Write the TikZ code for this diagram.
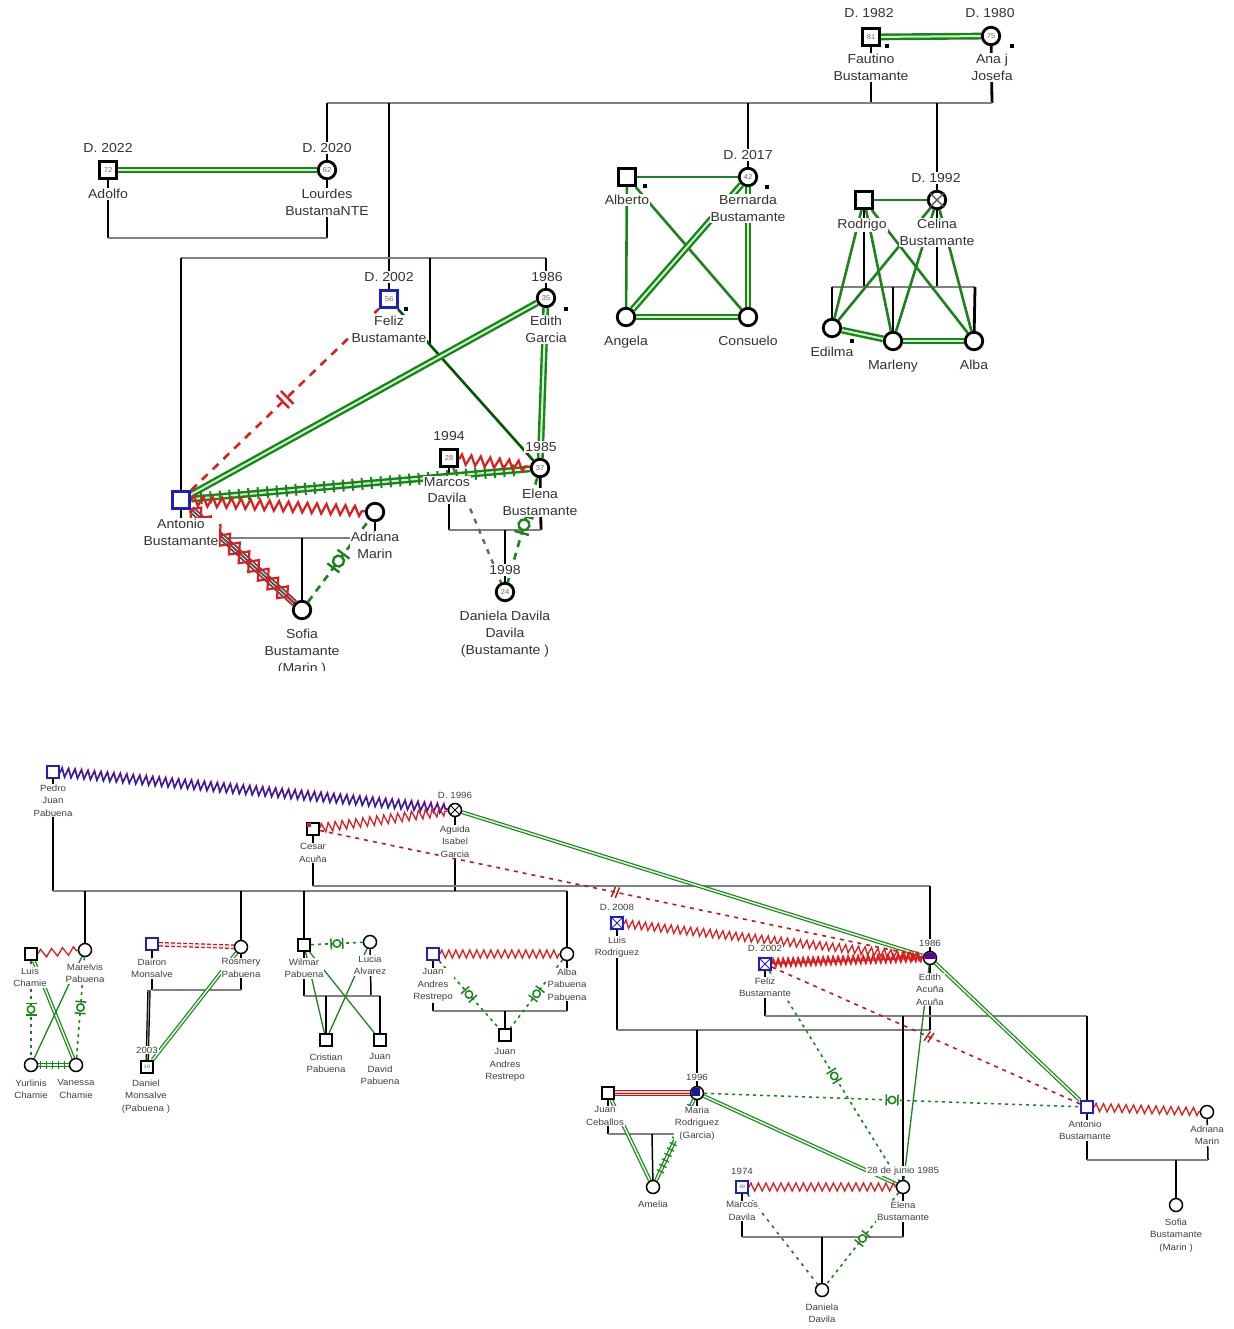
\documentclass[tikz,border=0pt]{standalone}
\usepackage{fontspec}
\setmainfont{Liberation Sans}[FakeStretch=1.08]
\usetikzlibrary{decorations.pathmorphing,decorations.markings}
\pgfdeclarelayer{bg}
\pgfsetlayers{bg,main}
\newcommand\ftop{\fontsize{13}{16.8}\selectfont}
\newcommand\fbot{\fontsize{9}{12.6}\selectfont}
\newcommand\fnum{\fontsize{7}{7}\selectfont}
\newcommand\fnumb{\fontsize{5}{5}\selectfont}
\definecolor{gdk}{RGB}{28,130,28}
\definecolor{rdk}{RGB}{222,30,30}
\definecolor{blu}{RGB}{30,30,195}
\definecolor{sib}{RGB}{128,128,128}
\tikzset{
 tsq/.style={rectangle,draw=black,line width=3.2pt,fill=white,minimum size=17pt,inner sep=0pt,font=\fnum,text=black!60},
 tci/.style={tsq,circle,line width=2.8pt,minimum size=17.5pt},
 bsq/.style={rectangle,draw=black,line width=1.6pt,fill=white,minimum size=12.5pt,inner sep=0pt,font=\fnumb,text=black!60},
 bci/.style={bsq,circle,line width=1.5pt,minimum size=13pt},
 isblue/.style={draw=blu},
 tl/.style={font=\ftop,align=center,inner sep=1pt,fill=white,text=black!80,anchor=north},
 tdate/.style={font=\ftop,inner sep=1pt,fill=white,text=black!80},
 blab/.style={font=\fbot,align=center,inner sep=0.8pt,fill=white,text=black!75,anchor=north},
 bdate/.style={font=\fbot,inner sep=0.8pt,fill=white,text=black!75},
 mk/.style={fill=black,minimum size=4.5pt,inner sep=0pt},
 tvert/.style={draw=black,line width=2.8pt},
 thor/.style={draw=sib,line width=2.8pt},
 bvert/.style={draw=black,line width=1.5pt},
 bhor/.style={draw=sib,line width=1.5pt},
 tg2/.style={draw=gdk,line width=2.4pt,double=green!22!white,double distance=2pt},
 tg1/.style={draw=gdk,line width=2.6pt},
 bg2/.style={draw=gdk,line width=1.2pt,double=green!12!white,double distance=1.5pt},
 bg1/.style={draw=gdk,line width=1.3pt},
 tzz/.style={draw=rdk,line width=2.2pt,decorate,decoration={zigzag,segment length=9.5pt,amplitude=5pt}},
 bzz/.style={draw=rdk,line width=1.3pt,decorate,decoration={zigzag,segment length=7pt,amplitude=3.5pt}},
 tticks/.style={decorate,decoration={markings,mark=between positions 0.03 and 0.97 step 9.5pt with {\draw[gdk,line width=2pt] (0pt,-6pt)--(0pt,6pt);}}},
 bticks/.style={decorate,decoration={markings,mark=between positions 0.08 and 0.92 step 6pt with {\draw[gdk,line width=1.3pt] (0pt,-4pt)--(0pt,4pt);}}},
 tsym/.style={postaction={decorate,decoration={markings,mark=at position #1 with {\draw[solid,gdk,line width=2.4pt,fill=white] (0pt,0pt) circle (5.5pt); \draw[solid,gdk,line width=2.4pt] (-8.5pt,-7.5pt)--(-8.5pt,7.5pt) (8.5pt,-7.5pt)--(8.5pt,7.5pt);}}}},
 bsym/.style={postaction={decorate,decoration={markings,mark=at position #1 with {\draw[solid,gdk,line width=1.5pt,fill=white] (0pt,0pt) circle (3.7pt); \draw[solid,gdk,line width=1.5pt] (-5.8pt,-5.5pt)--(-5.8pt,5.5pt) (5.8pt,-5.5pt)--(5.8pt,5.5pt);}}}},
 tbrk/.style={postaction={decorate,decoration={markings,mark=at position #1 with {\draw[solid,rdk,line width=2.4pt] (-3pt,-9pt)--(-3pt,9pt) (3pt,-9pt)--(3pt,9pt);}}}},
 bbrk/.style={postaction={decorate,decoration={markings,mark=at position #1 with {\draw[solid,rdk!85!black,line width=1.5pt] (-3pt,-5.5pt)--(-1pt,5.5pt) (1pt,-5.5pt)--(3pt,5.5pt);}}}},
 tgdash/.style={draw=gdk,line width=2.6pt,dash pattern=on 7pt off 6pt},
 bgdash/.style={draw=gdk,line width=1.6pt,dash pattern=on 3pt off 4pt},
 trdash/.style={draw=rdk,line width=2.6pt,dash pattern=on 8pt off 7pt},
 brdash/.style={draw=rdk!85!black,line width=1.6pt,dash pattern=on 4pt off 5pt},
}
\begin{document}
\begin{tikzpicture}[x=1pt,y=-1pt]
\useasboundingbox (0,0) rectangle (1233,1329);
\begin{pgfonlayer}{bg}
\fill[white] (0,0) rectangle (1233,1329);
\end{pgfonlayer}

% ================= TOP PERSONS =================
\node[tsq] (fau) at (871,37) {81};
\node[tci] (ana) at (991,36) {75};
\node[tsq] (ado) at (108,170) {72};
\node[tci] (lou) at (327,170) {62};
\node[tsq,isblue] (felT) at (389,299) {56};
\node[tci] (ediT) at (546,298) {35};
\node[tsq] (alb) at (627,177) {};
\node[tci] (ber) at (748,177) {42};
\node[tci] (ang) at (626,317) {};
\node[tci] (con) at (748,317) {};
\node[tsq] (rod) at (864,200) {};
\node[tci] (cel) at (937,200) {};
\node[tci] (edl) at (832,328) {};
\node[tci] (mly) at (893,341) {};
\node[tci] (alt) at (974,341) {};
\node[tsq,isblue] (antT) at (181,500) {};
\node[tci] (adrT) at (375,512) {};
\node[tsq] (marT) at (449,458) {28};
\node[tci] (eleT) at (540,468) {37};
\node[tci] (danT) at (505,592) {24};
\node[tci] (sofT) at (302,610) {};
\draw[black!70,line width=1.2pt] (cel.45)--(cel.225) (cel.135)--(cel.315);
\node[mk] (m1) at (887,46) {};
\node[mk] (m2) at (1012,46) {};
\node[mk] (m3) at (406,309) {};
\node[mk] (m4) at (566,309) {};
\node[mk] (m5) at (645,186) {};
\node[mk] (m6) at (767,187) {};
\node[mk] (m7) at (852,341) {};

% ================= TOP LABELS =================
\node[tdate] (d1) at (869,13) {D. 1982};
\node[tdate] (d2) at (990,13) {D. 1980};
\node[tl] (l1) at (871,53) {Fautino\\Bustamante};
\node[tl] (l2) at (992,53) {Ana j\\Josefa};
\node[tdate] (d3) at (108,148) {D. 2022};
\node[tdate] (d4) at (327,148) {D. 2020};
\node[tl] (l3) at (108,188) {Adolfo};
\node[tl] (l4) at (327,188) {Lourdes\\BustamaNTE};
\node[tdate] (d5) at (389,277) {D. 2002};
\node[tdate] (d6) at (547,277) {1986};
\node[tl] (l5) at (389,315) {Feliz\\Bustamante};
\node[tl] (l6) at (546,315) {Edith\\Garcia};
\node[tdate] (d7) at (748,155) {D. 2017};
\node[tl] (l7) at (627,194) {Alberto};
\node[tl] (l8) at (748,194) {Bernarda\\Bustamante};
\node[tl] (l9) at (626,335) {Angela};
\node[tl] (l10) at (748,335) {Consuelo};
\node[tdate] (d8) at (936,178) {D. 1992};
\node[tl] (l11) at (862,218) {Rodrigo};
\node[tl] (l12) at (937,218) {Celina\\Bustamante};
\node[tl] (l13) at (832,346) {Edilma};
\node[tl] (l14) at (893,359) {Marleny};
\node[tl] (l15) at (974,359) {Alba};
\node[tdate] (d9) at (449,436) {1994};
\node[tdate] (d10) at (541,447) {1985};
\node[tl] (l16) at (447,476) {Marcos\\Davila};
\node[tl] (l17) at (540,488) {Elena\\Bustamante};
\node[tl] (l18) at (181,518) {Antonio\\Bustamante};
\node[tl] (l19) at (375,531) {Adriana\\Marin};
\node[tdate] (d11) at (505,570) {1998};
\node[tl] (l20) at (505,610) {Daniela Davila\\Davila\\(Bustamante )};
\begin{scope}
\clip (0,0) rectangle (1233,670);
\node[tl] (l21) at (302,628) {Sofia\\Bustamante\\(Marin )};
\end{scope}

% ================= TOP JUNCTIONS =================
\coordinate (j1) at (871,103); \coordinate (j2) at (992,103);
\coordinate (j3) at (327,103); \coordinate (j4) at (389,103);
\coordinate (j5) at (748,103); \coordinate (j6) at (937,103);
\coordinate (j7) at (108,238); \coordinate (j8) at (327,238);
\coordinate (j9) at (181,258); \coordinate (j10) at (430,258);
\coordinate (j11) at (546,258); \coordinate (j12) at (430,345);
\coordinate (j13) at (864,287); \coordinate (j14) at (937,287);
\coordinate (j15) at (832,287); \coordinate (j16) at (893,287);
\coordinate (j17) at (975,287);
\coordinate (j18) at (181,538); \coordinate (j19) at (375,538);
\coordinate (j20) at (302,538);
\coordinate (j21) at (449,530); \coordinate (j22) at (541,530);
\coordinate (j23) at (505,530);

% ================= BOTTOM PERSONS =================
\node[bsq,isblue] (ped) at (53,772) {};
\node[bci] (agu) at (455,810) {};
\node[bsq] (ces) at (313,829) {};
\node[bsq] (lch) at (31,954) {};
\node[bci] (mrv) at (85,950) {};
\node[bci] (yur) at (31,1065) {};
\node[bci] (van) at (76,1065) {};
\node[bsq,isblue] (dai) at (152,944) {};
\node[bci] (ros) at (241,947) {};
\node[bsq] (dmo) at (147,1067) {19};
\node[bsq] (wil) at (304,945) {};
\node[bci] (luc) at (370,942) {};
\node[bsq] (cri) at (326,1040) {};
\node[bsq] (jdp) at (380,1040) {};
\node[bsq,isblue] (jar) at (433,954) {};
\node[bci] (alp) at (567,954) {};
\node[bsq] (jr2) at (505,1035) {};
\node[bsq,isblue] (lro) at (617,923) {};
\node[bsq,isblue] (feB) at (765,964) {};
\node[bci] (edB) at (930,958) {};
\node[bsq] (jce) at (608,1093) {};
\node[bci] (mro) at (697,1093) {};
\node[bci] (ame) at (653,1187) {};
\node[bsq,isblue] (maB) at (742,1187) {48};
\node[bci] (elB) at (903,1187) {};
\node[bci] (daB) at (822,1290) {};
\node[bsq,isblue] (anB) at (1087,1107) {};
\node[bci] (adB) at (1207,1112) {};
\node[bci] (soB) at (1176,1205) {};
\draw[black,line width=1pt] (agu.45)--(agu.225) (agu.135)--(agu.315);
\draw[blu,line width=1pt] (lro.north east)--(lro.south west) (lro.north west)--(lro.south east);
\draw[blu,line width=1pt] (feB.north east)--(feB.south west) (feB.north west)--(feB.south east);
\fill[rdk] ([shift={(1pt,-1pt)}]ces.north west) rectangle ++(4.5pt,-4.5pt);
\begin{scope}
\clip (edB.center) circle (5.8pt);
\fill[violet!75!blue] (edB.center) ++(-8pt,-0.5pt) rectangle ++(16pt,8pt);
\end{scope}
\begin{scope}
\clip (mro.center) circle (5.8pt);
\fill[blu!80!black] (mro.center) ++(-8pt,-3pt) rectangle ++(11pt,11pt);
\end{scope}

% ================= BOTTOM LABELS =================
\node[blab] (n1) at (53,783.5) {Pedro\\Juan\\Pabuena};
\node[bdate] (e1) at (455,795) {D. 1996};
\node[blab] (n2) at (455,824.5) {Aguida\\Isabel\\Garcia};
\node[blab] (n3) at (313,842.5) {Cesar\\Acuña};
\node[blab] (n4) at (30,966.5) {Luis\\Chamie};
\node[blab] (n5) at (85,962.5) {Marelvis\\Pabuena};
\node[blab] (n6) at (31,1078.5) {Yurlinis\\Chamie};
\node[blab] (n7) at (76,1078.5) {Vanessa\\Chamie};
\node[blab] (n8) at (152,957.5) {Dairon\\Monsalve};
\node[blab] (n9) at (241,957.5) {Rosmery\\Pabuena};
\node[bdate] (e2) at (147,1050) {2003};
\node[blab] (n10) at (146,1078.5) {Daniel\\Monsalve\\(Pabuena )};
\node[blab] (n11) at (304,957.5) {Wilmar\\Pabuena};
\node[blab] (n12) at (370,954.5) {Lucia\\Alvarez};
\node[blab] (n13) at (326,1052.5) {Cristian\\Pabuena};
\node[blab] (n14) at (380,1052.5) {Juan\\David\\Pabuena};
\node[blab] (n15) at (433,967.5) {Juan\\Andres\\Restrepo};
\node[blab] (n16) at (567,967.5) {Alba\\Pabuena\\Pabuena};
\node[blab] (n17) at (505,1047.5) {Juan\\Andres\\Restrepo};
\node[bdate] (e3) at (617,907) {D. 2008};
\node[blab] (n18) at (617,935.5) {Luis\\Rodriguez};
\node[bdate] (e4) at (765,948) {D. 2002};
\node[blab] (n19) at (765,976.5) {Feliz\\Bustamante};
\node[bdate] (e5) at (930,943) {1986};
\node[blab] (n20) at (930,972.5) {Edith\\Acuña\\Acuña};
\node[bdate] (e6) at (697,1077) {1996};
\node[blab] (n21) at (605,1105.5) {Juan\\Ceballos};
\node[blab] (n22) at (697,1105.5) {Maria\\Rodriguez\\(Garcia)};
\node[blab] (n23) at (653,1199.5) {Amelia};
\node[bdate] (e7) at (742,1171) {1974};
\node[blab] (n24) at (742,1200.5) {Marcos\\Davila};
\node[bdate] (e8) at (903,1171) {28 de junio 1985};
\node[blab] (n25) at (903,1200.5) {Elena\\Bustamante};
\node[blab] (n26) at (822,1302.5) {Daniela\\Davila};
\node[blab] (n27) at (1085,1119.5) {Antonio\\Bustamante};
\node[blab] (n28) at (1207,1124.5) {Adriana\\Marin};
\node[blab] (n29) at (1176,1217.5) {Sofia\\Bustamante\\(Marin )};

% ================= BOTTOM JUNCTIONS =================
\coordinate (b1) at (53,891); \coordinate (b2) at (567,891);
\coordinate (b3) at (85,891); \coordinate (b4) at (241,891);
\coordinate (b5) at (304,891); \coordinate (b6) at (455,891);
\coordinate (b7) at (313,886); \coordinate (b8) at (930,886);
\coordinate (b10) at (152,990); \coordinate (b11) at (241,990);
\coordinate (b12) at (149,990);
\coordinate (b13) at (304,996); \coordinate (b14) at (371,996);
\coordinate (b15) at (380,996); \coordinate (b16) at (326,996);
\coordinate (b17) at (433,1011); \coordinate (b18) at (567,1011);
\coordinate (b19) at (505,1011);
\coordinate (b20) at (617,1030); \coordinate (b21) at (930,1030);
\coordinate (b22) at (697,1030);
\coordinate (b23) at (765,1016); \coordinate (b24) at (1087,1016);
\coordinate (b25) at (903,1016);
\coordinate (b26) at (608,1134); \coordinate (b27) at (697,1134);
\coordinate (b28) at (652,1134);
\coordinate (b29) at (742,1237); \coordinate (b30) at (903,1237);
\coordinate (b31) at (822,1237);
\coordinate (b32) at (1087,1160); \coordinate (b33) at (1208,1160);
\coordinate (b34) at (1176,1160);

% ================= CONNECTORS =================
\begin{pgfonlayer}{bg}
% ---- top family lines
\draw[tvert] (fau)--(j1); \draw[tvert] (ana)--(j2);
\draw[thor] (j3)--(j2);
\draw[tvert] (j3)--(lou); \draw[tvert] (j4)--(felT);
\draw[tvert] (j5)--(ber); \draw[tvert] (j6)--(cel);
\draw[tvert] (ado)--(j7); \draw[tvert] (lou)--(j8); \draw[thor] (j7)--(j8);
\draw[thor] (j9)--(j11);
\draw[tvert] (j9)--(antT); \draw[tvert] (j10)--(j12); \draw[tvert] (j11)--(ediT);
\draw[tvert] (rod)--(j13); \draw[tvert] (cel)--(j14);
\draw[thor] (j15)--(j17);
\draw[tvert] (j15)--(edl); \draw[tvert] (j16)--(mly); \draw[tvert] (j17)--(alt);
\draw[tvert] (antT)--(j18); \draw[tvert] (adrT)--(j19); \draw[thor] (j18)--(j19);
\draw[tvert] (j20)--(sofT);
\draw[tvert] (marT)--(j21); \draw[tvert] (eleT)--(j22); \draw[thor] (j21)--(j22);
\draw[tvert] (j23)--(danT);
% ---- top relations
\draw[tg2] (fau)--(ana);
\draw[tg2] (ado)--(lou);
\draw[tg1] (alb)--(ber);
\draw[tg1] (alb)--(ang);
\draw[tg1] (alb)--(con);
\draw[tg2] (ber)--(ang);
\draw[tg2] (ber)--(con);
\draw[tg2] (ang)--(con);
\draw[tg1] (rod)--(cel);
\draw[tg1] (rod)--(edl); \draw[tg1] (rod)--(mly); \draw[tg1] (rod)--(alt);
\draw[tg1] (cel)--(edl); \draw[tg1] (cel)--(mly); \draw[tg1] (cel)--(alt);
\draw[tg2] (edl)--(mly);
\draw[tg2] (mly)--(alt);
\draw[tg1,draw=green!35!black] (felT)--(eleT);
\draw[tg2] (antT)--(ediT);
\draw[tg2] (ediT)--(eleT);
\draw[trdash,tbrk=0.5] (antT)--(felT);
\draw[tg2] (antT)--(eleT);
\path[tticks] (antT)--(eleT);
\draw[tzz] (antT)--(adrT);
\draw[tzz] (marT)--(eleT);
\draw[black!70,line width=1.8pt,double=white,double distance=3.6pt] (antT)--(sofT);
\draw[black!70,line width=1.8pt] (antT)--(sofT);
\draw[tzz,decoration={zigzag,segment length=26pt,amplitude=8pt}] (antT)--(sofT);
\draw[tzz,decoration={zigzag,segment length=26pt,amplitude=-8pt}] (antT)--(sofT);
\draw[tgdash,tsym=0.5] (sofT)--(adrT);
\draw[tgdash,tsym=0.45] (eleT)--(danT);
\draw[black!60,line width=2.4pt,dash pattern=on 5pt off 6pt] (marT)--(danT);
% ---- bottom family lines
\draw[bvert] (ped)--(b1); \draw[bhor] (b1)--(b2);
\draw[bvert] (b3)--(mrv); \draw[bvert] (b4)--(ros);
\draw[bvert] (b5)--(wil); \draw[bvert] (b2)--(alp);
\draw[bvert] (agu)--(b6);
\draw[bvert] (ces)--(b7); \draw[bhor] (b7)--(b8); \draw[bvert] (b8)--(edB);
\draw[bvert] (dai)--(b10); \draw[bvert] (ros)--(b11); \draw[bhor] (b10)--(b11);
\draw[black,line width=1.2pt,double=black!35,double distance=1pt] (b12)--(dmo);
\draw[bvert] (wil)--(b13); \draw[bvert] (luc)--(b14); \draw[bhor] (b13)--(b15);
\draw[bvert] (b16)--(cri); \draw[bvert] (b15)--(jdp);
\draw[bvert] (jar)--(b17); \draw[bvert] (alp)--(b18); \draw[bhor] (b17)--(b18);
\draw[bvert] (b19)--(jr2);
\draw[bvert] (lro)--(b20); \draw[bhor] (b20)--(b21); \draw[bvert] (edB)--(b21);
\draw[bvert] (b22)--(mro);
\draw[bvert] (feB)--(b23); \draw[bhor] (b23)--(b24);
\draw[bvert] (b25)--(elB); \draw[bvert] (b24)--(anB);
\draw[bvert] (jce)--(b26); \draw[bvert] (mro)--(b27); \draw[bhor] (b26)--(b27);
\draw[bvert] (b28)--(ame);
\draw[bvert] (maB)--(b29); \draw[bvert] (elB)--(b30); \draw[bhor] (b29)--(b30);
\draw[bvert] (b31)--(daB);
\draw[bvert] (anB)--(b32); \draw[bvert] (adB)--(b33); \draw[bhor] (b32)--(b33);
\draw[bvert] (b34)--(soB);
% ---- bottom relations
\draw[bzz,draw=rdk,decoration={zigzag,segment length=6.5pt,amplitude=4.5pt,raise=1.2pt}] (ped)--(agu);
\draw[bzz,draw=blu,decoration={zigzag,segment length=6.5pt,amplitude=4.5pt}] (ped)--(agu);
\draw[bzz,decoration={zigzag,segment length=7pt,amplitude=4.5pt}] (ces)--(agu);
\draw[brdash,bbrk=0.49] (ces)--(edB);
\draw[bg2] (agu)--(edB);
\draw[bzz,decoration={zigzag,segment length=6.5pt,amplitude=4pt}] (lro)--(edB);
\draw[rdk,line width=1pt] (feB)--(edB);
\draw[bzz,decoration={zigzag,segment length=5pt,amplitude=3.5pt}] (feB)--(edB);
\draw[bzz,decoration={zigzag,segment length=5pt,amplitude=3.5pt,raise=2pt}] (feB)--(edB);
\draw[brdash,bbrk=0.51] (feB)--(anB);
\draw[bgdash,bsym=0.5] (feB)--(elB);
\draw[bg1] (edB)--(elB);
\draw[bg2] (edB)--(anB);
\draw[bgdash,bsym=0.5] (mro)--(anB);
\draw[bg2] (mro)--(elB);
\draw[rdk!85!black,line width=1.1pt,double=pink!70,double distance=3.4pt] (jce)--(mro);
\draw[rdk!85!black,line width=0.9pt] (jce)--(mro);
\draw[bg2] (jce)--(ame);
\draw[bg2] (mro)--(ame);
\path[bticks] (mro)--(ame);
\draw[bzz,decoration={zigzag,segment length=7.5pt,amplitude=4pt}] (maB)--(elB);
\draw[black!70,line width=1.5pt,dash pattern=on 3pt off 5pt] (maB)--(daB);
\draw[bgdash,bsym=0.5] (elB)--(daB);
\draw[bzz,decoration={zigzag,segment length=7.5pt,amplitude=4pt}] (anB)--(adB);
\draw[bzz,decoration={zigzag,segment length=11pt,amplitude=4pt}] (lch)--(mrv);
\draw[bgdash,bsym=0.5] (lch)--(yur);
\draw[bgdash,bsym=0.5] (mrv)--(van);
\draw[bg2] (lch)--(van);
\draw[bg1] (mrv)--(yur);
\draw[bg2] (yur)--(van);
\path[bticks] (yur)--(van);
\draw[rdk!85!black,line width=1.2pt,dash pattern=on 4pt off 2pt,double=pink!60,double distance=2.2pt] (dai)--(ros);
\draw[bg2] (ros)--(dmo);
\draw[bgdash,bsym=0.5] (wil)--(luc);
\draw[bg1] (wil)--(cri);
\draw[bg1] (wil)--(jdp);
\draw[bg1] (luc)--(cri);
\draw[bzz,decoration={zigzag,segment length=7pt,amplitude=4pt}] (jar)--(alp);
\draw[bgdash,bsym=0.5] (jar)--(jr2);
\draw[bgdash,bsym=0.5] (alp)--(jr2);
\end{pgfonlayer}
\end{tikzpicture}
\end{document}
